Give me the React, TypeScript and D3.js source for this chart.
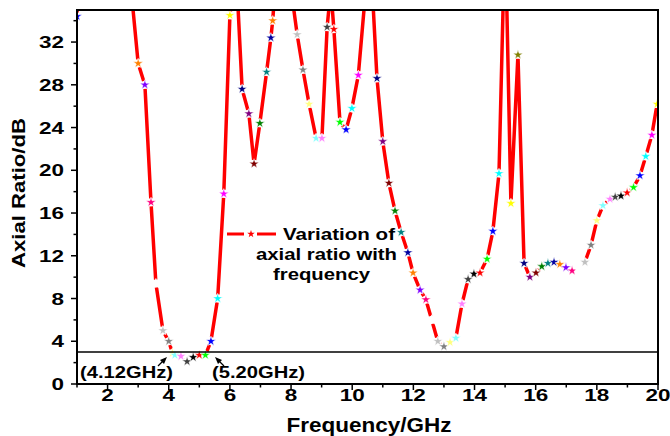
import React from "react";
import * as d3 from "d3";

// ---- data ----
const freq: number[] = [
  1.0, 1.2, 1.4, 1.6, 1.8, 2.0, 2.2, 2.4, 2.6, 2.7, 2.8,
  3.0, 3.22, 3.42, 3.58, 3.81, 4.0, 4.12, 4.2, 4.4, 4.6, 4.8, 5.0, 5.2, 5.38, 5.6, 5.8,
  6.0, 6.2, 6.4, 6.62, 6.79, 6.98, 7.2, 7.34, 7.4, 7.55, 7.75, 7.95,
  8.2, 8.39, 8.59, 8.82, 9.01, 9.18, 9.3, 9.4, 9.6, 9.8, 9.99, 10.2, 10.4, 10.6,
  10.81, 11.0, 11.2, 11.4, 11.6, 11.82, 11.99, 12.22, 12.41, 12.6, 12.8, 13.0, 13.2, 13.39,
  13.59, 13.79, 13.98, 14.18, 14.41, 14.6, 14.8, 15.0, 15.19, 15.42, 15.62, 15.81, 16.01,
  16.2, 16.4, 16.6, 16.79, 16.99, 17.19, 17.4, 17.61, 17.81, 18.0, 18.2, 18.43, 18.6,
  18.79, 18.99, 19.2, 19.41, 19.6, 19.8, 19.97,
];
const axialRatio: number[] = [
  34.4, 60, 70, 75, 75, 70, 65, 55, 48, 42, 36,
  30.0, 28.0, 17.0, 9.4, 5.0, 4.0, 2.9, 2.7, 2.6, 2.1, 2.5, 2.7, 2.7, 4.0, 8.0, 17.8,
  34.5, 39, 27.6, 25.3, 20.6, 24.4, 29.2, 32.4, 34.0, 40, 45, 38,
  32.7, 29.4, 26.2, 23.0, 23.0, 33.4, 37, 33.2, 24.5, 23.8, 25.8, 28.9, 35.5, 40,
  28.6, 22.7, 18.8, 16.2, 14.2, 12.3, 10.4, 8.8, 7.9, 6.0, 4.0, 3.5, 3.9, 4.3,
  7.5, 9.8, 10.3, 10.4, 11.7, 14.3, 19.7, 43, 16.9, 30.8, 11.3, 10.0, 10.4,
  11.0, 11.3, 11.4, 11.2, 10.9, 10.6, 11.0, 11.4, 13.0, 15.3, 16.7, 17.3, 17.5,
  17.6, 17.9, 18.4, 19.5, 21.3, 23.3, 26.2,
];
const xTicks: number[] = [2, 4, 6, 8, 10, 12, 14, 16, 18, 20];
const xMinorTicks: number[] = [1, 3, 5, 7, 9, 11, 13, 15, 17, 19];
const yTicks: number[] = [0, 4, 8, 12, 16, 20, 24, 28, 32];
const yMinorTicks: number[] = [2, 6, 10, 14, 18, 22, 26, 30, 34];
const thresholdDb = 3;
const legendLines: string[] = ["Variation of", "axial ratio with", "frequency"];
const annotations: string[] = ["(4.12GHz)", "(5.20GHz)"];

// Origin default colour cycle used for the symbols
const palette: string[] = [
  "#000000", "#FF0000", "#00FF00", "#0000FF", "#00FFFF", "#FF00FF", "#FFFF00", "#808000",
  "#000080", "#800080", "#800000", "#008000", "#008080", "#0000A0", "#FF8000", "#8000FF",
  "#FF0080", "#FFFFFF", "#C0C0C0", "#808080", "#FFFF80", "#80FFFF", "#FF80FF", "#404040",
];
const paletteStart = 3;

const W = 670, H = 436;
const L = 77, R = 658, T = 10, B = 384;
const FONT = "'Liberation Sans', Arial, sans-serif";

export default function App() {
  const x = d3.scaleLinear().domain([1, 20]).range([L, R]);
  const y = d3.scaleLinear().domain([0, 35]).range([B, T]);

  const pts = freq.map((f, i) => [x(f), y(axialRatio[i])] as [number, number]);
  const gap = 4;
  let linePath = "";
  for (let i = 0; i < pts.length - 1; i++) {
    const [x0, y0] = pts[i];
    const [x1, y1] = pts[i + 1];
    const len = Math.hypot(x1 - x0, y1 - y0);
    if (len <= 2 * gap) continue;
    const ux = (x1 - x0) / len, uy = (y1 - y0) / len;
    linePath += `M${x0 + ux * gap},${y0 + uy * gap}L${x1 - ux * gap},${y1 - uy * gap}`;
  }
  const star = d3.symbol(d3.symbolStar, 30)() as string;
  const legendStar = d3.symbol(d3.symbolStar, 18)() as string;

  const tickLabelLen = (s: string) => s.length * 12.5;

  return (
    <svg width={W} height={H} style={{ position: "absolute", left: 0, top: 0, background: "#fff" }}
      fontFamily={FONT} fontWeight="bold">
      <defs>
        <clipPath id="plotClip">
          <rect x={L} y={T} width={R - L} height={B - T} />
        </clipPath>
      </defs>

      {/* data line with gaps at symbols */}
      <g clipPath="url(#plotClip)">
        <path d={linePath} stroke="#FF0000" strokeWidth={3.5} fill="none" />
        {pts.map((p, i) => (
          <path key={i} d={star} transform={`translate(${p[0]},${p[1]})`}
            fill={palette[(i + paletteStart) % palette.length]}
            stroke="#ffffff" strokeWidth={0.8} strokeOpacity={0.7} />
        ))}
      </g>

      {/* 3 dB line */}
      <line x1={L} x2={R} y1={y(thresholdDb)} y2={y(thresholdDb)} stroke="#000" strokeWidth={1.5} />

      {/* frame */}
      <rect x={L} y={T} width={R - L} height={B - T} fill="none" stroke="#000" strokeWidth={2} />

      {/* x ticks */}
      {xTicks.map((t) => (
        <g key={"xt" + t}>
          <line x1={x(t)} x2={x(t)} y1={B} y2={B + 6} stroke="#000" strokeWidth={1.5} />
          <text x={x(t)} y={B + 17} textAnchor="middle" fontSize={17}
            textLength={tickLabelLen(String(t))} lengthAdjust="spacingAndGlyphs">{t}</text>
        </g>
      ))}
      {xMinorTicks.map((t) => (
        <line key={"xm" + t} x1={x(t)} x2={x(t)} y1={B} y2={B + 3.5} stroke="#000" strokeWidth={1.5} />
      ))}

      {/* y ticks */}
      {yTicks.map((t) => (
        <g key={"yt" + t}>
          <line x1={L - 6} x2={L} y1={y(t)} y2={y(t)} stroke="#000" strokeWidth={1.5} />
          <text x={64} y={y(t) + 6} textAnchor="end" fontSize={17}
            textLength={tickLabelLen(String(t))} lengthAdjust="spacingAndGlyphs">{t}</text>
        </g>
      ))}
      {yMinorTicks.map((t) => (
        <line key={"ym" + t} x1={L - 3.5} x2={L} y1={y(t)} y2={y(t)} stroke="#000" strokeWidth={1.5} />
      ))}

      {/* axis titles */}
      <text x={369} y={432} textAnchor="middle" fontSize={20} textLength={165}
        lengthAdjust="spacingAndGlyphs">Frequency/GHz</text>
      <text transform={`translate(25,193) rotate(-90)`} textAnchor="middle" fontSize={19}
        textLength={150} lengthAdjust="spacingAndGlyphs">Axial Ratio/dB</text>

      {/* legend */}
      <line x1={227} x2={244} y1={234} y2={234} stroke="#FF0000" strokeWidth={3} />
      <line x1={257} x2={276} y1={234} y2={234} stroke="#FF0000" strokeWidth={3} />
      <path d={legendStar} transform="translate(251,234)" fill="#FF0000" />
      <text x={283} y={240} fontSize={17} textLength={112} lengthAdjust="spacingAndGlyphs">{legendLines[0]}</text>
      <text x={256} y={260} fontSize={17} textLength={141} lengthAdjust="spacingAndGlyphs">{legendLines[1]}</text>
      <text x={273} y={280} fontSize={17} textLength={97} lengthAdjust="spacingAndGlyphs">{legendLines[2]}</text>

      {/* annotations */}
      <text x={80} y={378} fontSize={16} textLength={93} lengthAdjust="spacingAndGlyphs">{annotations[0]}</text>
      <text x={212} y={378} fontSize={16} textLength={93} lengthAdjust="spacingAndGlyphs">{annotations[1]}</text>
      <line x1={158} y1={366} x2={164} y2={360} stroke="#000" strokeWidth={1.2} />
      <path d="M167,357 L160,360 L164,364 Z" fill="#000" />
      <line x1={224} y1={366} x2={218} y2={360} stroke="#000" strokeWidth={1.2} />
      <path d="M215,357 L222,360 L218,364 Z" fill="#000" />
    </svg>
  );
}
